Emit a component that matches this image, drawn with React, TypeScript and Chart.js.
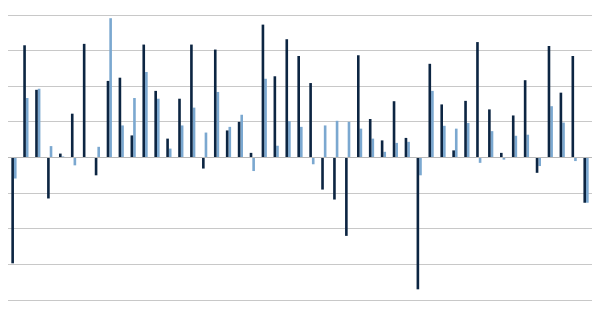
import React, { useEffect, useRef } from "react";
import { Chart, registerables } from "chart.js";

Chart.register(...registerables);

const categories: string[] = Array.from({ length: 49 }, (_, i) => String(i + 1));

const seriesDark: number[] = [
  -2.97, 3.15, 1.9, -1.15, 0.11, 1.23, 3.19, -0.5, 2.15, 2.24, 0.62, 3.17,
  1.87, 0.53, 1.65, 3.17, -0.31, 3.03, 0.76, 1.0, 0.13, 3.73, 2.28, 3.32, 2.85,
  2.09, -0.9, -1.18, -2.2, 2.87, 1.08, 0.48, 1.58, 0.55, -3.7, 2.63, 1.49,
  0.2, 1.59, 3.24, 1.35, 0.13, 1.18, 2.17, -0.43, 3.13, 1.82, 2.85, -1.27,
];

const seriesLight: number[] = [
  -0.59, 1.67, 1.93, 0.32, 0.03, -0.22, 0.01, 0.3, 3.91, 0.9, 1.67, 2.4,
  1.65, 0.25, 0.9, 1.4, 0.7, 1.84, 0.86, 1.2, -0.38, 2.21, 0.33, 1.02, 0.86,
  -0.19, 0.9, 1.03, 1.0, 0.81, 0.53, 0.16, 0.41, 0.44, -0.5, 1.87, 0.89,
  0.81, 0.97, -0.15, 0.74, -0.06, 0.61, 0.64, -0.24, 1.44, 0.98, -0.1, -1.27,
];

export default function App() {
  const ref = useRef<HTMLCanvasElement | null>(null);
  useEffect(() => {
    if (!ref.current) return;
    const chart = new Chart(ref.current, {
      type: "bar",
      data: {
        labels: categories,
        datasets: [
          { label: "A", data: seriesDark, backgroundColor: "#0c2542", borderWidth: 0 },
          { label: "B", data: seriesLight, backgroundColor: "#7ba8d0", borderWidth: 0 },
        ],
      },
      options: {
        animation: false,
        responsive: false,
        maintainAspectRatio: false,
        layout: { padding: { left: 8, right: 8, top: 15, bottom: 5 } },
        plugins: { legend: { display: false }, tooltip: { enabled: false } },
        datasets: { bar: { categoryPercentage: 0.44, barPercentage: 1 } },
        scales: {
          x: {
            grid: { display: false },
            border: { display: false },
            ticks: { display: false },
          },
          y: {
            min: -4,
            max: 4,
            ticks: { display: false, stepSize: 1 },
            border: { display: false },
            grid: {
              color: (ctx: any) => (ctx.tick && ctx.tick.value === 0 ? "#b8b8b8" : "#c8c8c8"),
              lineWidth: 1,
              drawTicks: false,
            },
          },
        },
      },
    });
    return () => chart.destroy();
  }, []);
  return (
    <div style={{ position: "absolute", left: 0, top: 0, width: 600, height: 313, background: "#fff" }}>
      <canvas ref={ref} width={600} height={313} style={{ width: 600, height: 313 }} />
    </div>
  );
}
